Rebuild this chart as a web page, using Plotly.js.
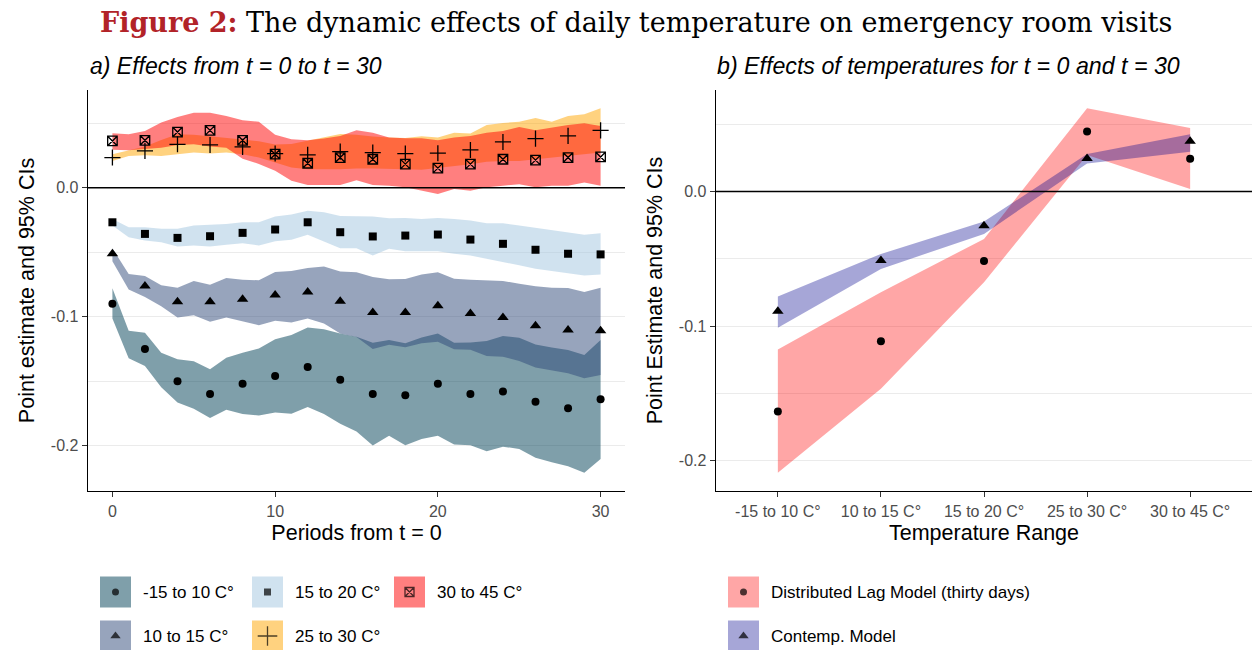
<!DOCTYPE html>
<html>
<head>
<meta charset="utf-8">
<script src="https://cdn.plot.ly/plotly-3.0.1.min.js"></script>
<style>
  html, body { margin: 0; padding: 0; background: #ffffff; }
  #chart { width: 1255px; height: 650px; }
</style>
</head>
<body>
<div id="chart"></div>
<script>
// ---------- Panel a: effects by period ----------
const periods = [0,1,2,3,4,5,6,7,8,9,10,11,12,13,14,15,16,17,18,19,20,21,22,23,24,25,26,27,28,29,30];
const pointPeriods = [0,2,4,6,8,10,12,14,16,18,20,22,24,26,28,30];
const groupLabels = ['-15 to 10 C°', '10 to 15 C°', '15 to 20 C°', '25 to 30 C°', '30 to 45 C°'];

// -15 to 10 C°
const coldEst = [-0.090,-0.125,-0.150,-0.160,-0.152,-0.146,-0.139,-0.149,-0.160,-0.161,-0.152,-0.160,-0.158,-0.166,-0.171,-0.164];
const coldHi = [-0.078,-0.111,-0.1125,-0.128,-0.133,-0.1346,-0.1408,-0.1318,-0.128,-0.1246,-0.1176,-0.1143,-0.1084,-0.1097,-0.113,-0.1156,-0.1202,-0.1181,-0.1207,-0.1161,-0.113,-0.1202,-0.120,-0.1189,-0.115,-0.1164,-0.1215,-0.124,-0.1259,-0.1297,-0.1181];
const coldLo = [-0.1014,-0.1323,-0.1382,-0.1547,-0.1665,-0.1714,-0.1786,-0.1722,-0.1755,-0.1766,-0.1743,-0.1753,-0.1701,-0.1755,-0.183,-0.189,-0.200,-0.1923,-0.1998,-0.1948,-0.1923,-0.1992,-0.1998,-0.2044,-0.2008,-0.2026,-0.2095,-0.2129,-0.216,-0.2211,-0.2103];

// 10 to 15 C°
const coolEst = [-0.0512,-0.0762,-0.0885,-0.0885,-0.0865,-0.0831,-0.0808,-0.088,-0.0968,-0.0968,-0.0916,-0.0976,-0.1006,-0.1071,-0.1104,-0.111];
const coolHi = [-0.047,-0.067,-0.0685,-0.0757,-0.0775,-0.0723,-0.0752,-0.070,-0.0713,-0.0718,-0.0654,-0.0646,-0.0623,-0.061,-0.0649,-0.0656,-0.0692,-0.071,-0.0708,-0.0672,-0.0656,-0.0705,-0.0713,-0.0718,-0.0723,-0.0744,-0.0764,-0.0775,-0.0777,-0.0808,-0.0775];
const coolLo = [-0.057,-0.079,-0.0847,-0.0919,-0.1006,-0.0988,-0.104,-0.1006,-0.1037,-0.1066,-0.1032,-0.1045,-0.1014,-0.1053,-0.113,-0.1158,-0.1251,-0.1218,-0.1238,-0.1207,-0.1195,-0.1253,-0.1256,-0.1305,-0.131,-0.1344,-0.1395,-0.1418,-0.1439,-0.1478,-0.1452];

// 15 to 20 C°
const mildEst = [-0.0268,-0.0358,-0.0389,-0.0376,-0.035,-0.0324,-0.0268,-0.0345,-0.0378,-0.0371,-0.0363,-0.0402,-0.0435,-0.0481,-0.0512,-0.0517];
const mildHi = [-0.0242,-0.0306,-0.0306,-0.0319,-0.0319,-0.0293,-0.0288,-0.0281,-0.0268,-0.0268,-0.0224,-0.0208,-0.0178,-0.019,-0.0219,-0.0224,-0.0224,-0.0237,-0.0234,-0.0242,-0.0234,-0.0242,-0.0255,-0.0276,-0.0276,-0.0293,-0.0311,-0.0327,-0.0345,-0.0365,-0.0353];
const mildLo = [-0.0293,-0.0384,-0.0409,-0.0422,-0.0456,-0.0448,-0.0456,-0.0443,-0.043,-0.0448,-0.0415,-0.0404,-0.0365,-0.0417,-0.0469,-0.0469,-0.0525,-0.0474,-0.0492,-0.0492,-0.0492,-0.0512,-0.0525,-0.0551,-0.0577,-0.0602,-0.0628,-0.0641,-0.0662,-0.068,-0.0672];

// 25 to 30 C°
const warmEst = [0.0234,0.0286,0.0337,0.0332,0.0317,0.0265,0.0255,0.028,0.0273,0.0265,0.0268,0.0293,0.0355,0.0381,0.0402,0.0445];
const warmHi = [0.026,0.029,0.032,0.037,0.0414,0.041,0.0399,0.039,0.0374,0.036,0.0335,0.034,0.0366,0.039,0.0416,0.041,0.0397,0.039,0.0386,0.040,0.039,0.0427,0.042,0.0486,0.0502,0.0512,0.0541,0.0512,0.0557,0.0569,0.0617];
const warmLo = [0.0208,0.0247,0.0252,0.0247,0.026,0.0273,0.0265,0.0273,0.026,0.0234,0.0195,0.0157,0.0144,0.0144,0.0144,0.015,0.0149,0.0144,0.0144,0.0139,0.0157,0.017,0.0183,0.0201,0.0208,0.0208,0.0221,0.0229,0.0247,0.026,0.0273];

// 30 to 45 C°
const hotEst = [0.0363,0.0368,0.0432,0.0445,0.0368,0.026,0.019,0.0234,0.0221,0.0183,0.0152,0.0183,0.0221,0.0214,0.0234,0.0239];
const hotHi = [0.0422,0.0414,0.044,0.0505,0.0548,0.0582,0.0582,0.0556,0.0523,0.0512,0.041,0.0376,0.0368,0.0381,0.0402,0.0445,0.0427,0.0389,0.0384,0.0384,0.0368,0.0389,0.0402,0.0427,0.044,0.0471,0.0445,0.0466,0.0486,0.050,0.0479];
const hotLo = [0.0294,0.0291,0.0299,0.0311,0.0332,0.0337,0.0319,0.0311,0.0225,0.0185,0.0131,0.0054,0.0021,0.0021,0.0021,0.0059,0.0021,0.0015,0.0003,-0.0023,-0.0049,-0.001,-0.0023,0.0003,0.0015,0.0028,0.0003,0.0015,0.0015,0.0041,0.0015];

const leftYTicks = [-0.2, -0.1, 0.0];
const leftYTickLabels = ['-0.2', '-0.1', '0.0'];
const leftXTicks = [0, 10, 20, 30];

// ---------- Panel b: effects by temperature range ----------
const tempRanges = ['-15 to 10 C°', '10 to 15 C°', '15 to 20 C°', '25 to 30 C°', '30 to 45 C°'];
const lagEst = [-0.1634, -0.1113, -0.0516, 0.0444, 0.0242];
const lagHi = [-0.1173, -0.0748, -0.0353, 0.0618, 0.047];
const lagLo = [-0.2089, -0.1464, -0.0674, 0.027, 0.0018];
const contEst = [-0.0889, -0.0513, -0.0254, 0.0244, 0.0373];
const contHi = [-0.078, -0.0464, -0.0224, 0.0277, 0.0425];
const contLo = [-0.1012, -0.0575, -0.0316, 0.0207, 0.0294];
const modelLabels = ['Distributed Lag Model (thirty days)', 'Contemp. Model'];

const rightYTicks = [-0.2, -0.1, 0.0];
const rightYTickLabels = ['-0.2', '-0.1', '0.0'];

// ---------- styling ----------
const SANS = 'Liberation Sans, Arial, sans-serif';
const groupFill = ['rgba(0,64,86,0.5)', 'rgba(47,73,121,0.5)', 'rgba(161,197,223,0.5)', 'rgba(255,165,0,0.5)', 'rgba(255,0,0,0.5)'];
const groupSymbol = ['circle', 'triangle-up', 'square', 'cross-thin-open', 'square-x-open'];
const groupSize = [8, 10, 8, 11.5, 9.5];
const modelFill = ['rgba(255,0,0,0.35)', 'rgba(0,0,139,0.35)'];
const modelSymbol = ['circle', 'triangle-up'];
const modelSize = [8, 10];

function markerStyle(symbol, size) {
  const open = symbol.indexOf('open') >= 0;
  return {
    symbol: symbol, size: size,
    color: '#000000',
    line: { color: '#000000', width: open ? 1.3 : 0 }
  };
}

function band(xs, hi, lo, fill, xa, ya) {
  return {
    type: 'scatter', mode: 'lines',
    x: xs.concat(xs.slice().reverse()),
    y: hi.concat(lo.slice().reverse()),
    fill: 'toself', fillcolor: fill,
    line: { width: 0, color: 'rgba(0,0,0,0)' },
    hoverinfo: 'skip', showlegend: false,
    xaxis: xa, yaxis: ya
  };
}

const groupHi = [coldHi, coolHi, mildHi, warmHi, hotHi];
const groupLo = [coldLo, coolLo, mildLo, warmLo, hotLo];
const groupEst = [coldEst, coolEst, mildEst, warmEst, hotEst];

const traces = [];
groupLabels.forEach((g, i) => traces.push(band(periods, groupHi[i], groupLo[i], groupFill[i], 'x', 'y')));
groupLabels.forEach((g, i) => traces.push({
  type: 'scatter', mode: 'markers', name: g,
  x: pointPeriods, y: groupEst[i],
  marker: markerStyle(groupSymbol[i], groupSize[i]),
  showlegend: false, xaxis: 'x', yaxis: 'y'
}));

const modelHi = [lagHi, contHi];
const modelLo = [lagLo, contLo];
const modelEst = [lagEst, contEst];
modelLabels.forEach((m, i) => traces.push(band(tempRanges, modelHi[i], modelLo[i], modelFill[i], 'x2', 'y2')));
modelLabels.forEach((m, i) => traces.push({
  type: 'scatter', mode: 'markers', name: m,
  x: tempRanges, y: modelEst[i],
  marker: markerStyle(modelSymbol[i], modelSize[i]),
  showlegend: false, xaxis: 'x2', yaxis: 'y2'
}));

// ---------- legends (drawn on a page-sized pixel overlay) ----------
const KEY = 31;
const legendRows = [592, 636];
const leftKeyLeft = [100, 252, 394];
const leftTextLeft = [141, 293, 435];
const rightKeyLeft = [728];
const rightTextLeft = [769];
const legendSymbolSize = [7, 9, 7, 14, 9];

const shapes = [];
const annotations = [];
const legendMarkers = { x: [], y: [], symbol: [], size: [] };

function addKey(left, textLeft, row, fill, symbol, size, label) {
  const cy = legendRows[row];
  shapes.push({
    type: 'rect', xref: 'x3', yref: 'y3',
    x0: left, x1: left + KEY, y0: cy - KEY / 2, y1: cy + KEY / 2,
    fillcolor: fill, line: { width: 0 }, layer: 'below'
  });
  legendMarkers.x.push(left + KEY / 2);
  legendMarkers.y.push(cy);
  legendMarkers.symbol.push(symbol);
  legendMarkers.size.push(size);
  annotations.push({
    xref: 'x3', yref: 'y3', x: textLeft, y: cy,
    xanchor: 'left', yanchor: 'middle', showarrow: false,
    text: label, font: { family: SANS, size: 17, color: '#000000' }
  });
}

groupLabels.forEach((g, i) => {
  const col = Math.floor(i / 2), row = i % 2;
  addKey(leftKeyLeft[col], leftTextLeft[col], row, groupFill[i], groupSymbol[i], legendSymbolSize[i], g);
});
modelLabels.forEach((m, i) => {
  addKey(rightKeyLeft[0], rightTextLeft[0], i, modelFill[i], modelSymbol[i], legendSymbolSize[i === 0 ? 0 : 1], m);
});

traces.push({
  type: 'scatter', mode: 'markers',
  x: legendMarkers.x, y: legendMarkers.y,
  marker: {
    symbol: legendMarkers.symbol, size: legendMarkers.size, color: '#000000',
    line: { color: '#000000', width: legendMarkers.symbol.map(s => s.indexOf('open') >= 0 ? 1.3 : 0) }
  },
  hoverinfo: 'skip', showlegend: false, xaxis: 'x3', yaxis: 'y3', cliponaxis: false
});

// zero reference lines
shapes.push({ type: 'line', xref: 'x domain', yref: 'y', x0: 0, x1: 1, y0: 0, y1: 0, line: { color: '#000000', width: 1.4 } });
shapes.push({ type: 'line', xref: 'x2 domain', yref: 'y2', x0: 0, x1: 1, y0: 0, y1: 0, line: { color: '#000000', width: 1.4 } });

// titles
annotations.push({
  xref: 'paper', yref: 'paper', x: 0.5068, y: 0.966, xanchor: 'center', yanchor: 'middle', showarrow: false,
  text: '<b><span style="color:#B22328">Figure 2:</span></b> The dynamic effects of daily temperature on emergency room visits',
  font: { family: 'DejaVu Serif, serif', size: 27, color: '#000000' }
});
annotations.push({
  xref: 'paper', yref: 'paper', x: 88 / 1255, y: (650 - 66) / 650, xanchor: 'left', yanchor: 'middle', showarrow: false,
  text: '<i>a) Effects from t = 0 to t = 30</i>', font: { family: SANS, size: 23, color: '#000000' }
});
annotations.push({
  xref: 'paper', yref: 'paper', x: 715 / 1255, y: (650 - 66) / 650, xanchor: 'left', yanchor: 'middle', showarrow: false,
  text: '<i>b) Effects of temperatures for t = 0 and t = 30</i>', font: { family: SANS, size: 23.2, color: '#000000' }
});

const tickFont = { family: SANS, size: 16, color: '#4D4D4D' };
const titleFont = { family: SANS, size: 21.5, color: '#000000' };
const yDomain = [(650 - 491) / 650, (650 - 90) / 650];

function baseAxis() {
  return {
    showline: true, linecolor: '#000000', linewidth: 1.4,
    ticks: 'outside', ticklen: 5, tickwidth: 1, tickcolor: '#333333',
    tickfont: tickFont, zeroline: false, fixedrange: true
  };
}

const layout = {
  width: 1255, height: 650,
  margin: { l: 0, r: 0, t: 0, b: 0 },
  paper_bgcolor: '#ffffff', plot_bgcolor: 'rgba(0,0,0,0)',
  showlegend: false,
  xaxis: Object.assign(baseAxis(), {
    domain: [88 / 1255, 625 / 1255], anchor: 'y',
    range: [-1.5, 31.5], tickmode: 'array', tickvals: leftXTicks,
    showgrid: false,
    title: { text: 'Periods from t = 0', font: titleFont, standoff: 6 }
  }),
  yaxis: Object.assign(baseAxis(), {
    domain: yDomain, anchor: 'x',
    range: [-0.2352, 0.0758], tickmode: 'array', tickvals: leftYTicks, ticktext: leftYTickLabels,
    showgrid: true, gridcolor: '#EBEBEB', gridwidth: 1,
    minor: { tickmode: 'array', tickvals: [-0.15, -0.05, 0.05], showgrid: true, gridcolor: '#EBEBEB', gridwidth: 1, ticks: '' },
    title: { text: 'Point estimate and 95% CIs', font: titleFont, standoff: 10 }
  }),
  xaxis2: Object.assign(baseAxis(), {
    domain: [716 / 1255, 1252 / 1255], anchor: 'y2',
    type: 'category', categoryorder: 'array', categoryarray: tempRanges,
    range: [-0.6, 4.6], showgrid: false,
    title: { text: 'Temperature Range', font: titleFont, standoff: 6 }
  }),
  yaxis2: Object.assign(baseAxis(), {
    domain: yDomain, anchor: 'x2',
    range: [-0.2224, 0.0753], tickmode: 'array', tickvals: rightYTicks, ticktext: rightYTickLabels,
    showgrid: true, gridcolor: '#EBEBEB', gridwidth: 1,
    minor: { tickmode: 'array', tickvals: [-0.15, -0.05, 0.05], showgrid: true, gridcolor: '#EBEBEB', gridwidth: 1, ticks: '' },
    title: { text: 'Point Estimate and 95% CIs', font: titleFont, standoff: 10 }
  }),
  xaxis3: { domain: [0, 1], range: [0, 1255], anchor: 'y3', visible: false, fixedrange: true },
  yaxis3: { domain: [0, 1], range: [650, 0], anchor: 'x3', visible: false, fixedrange: true },
  shapes: shapes,
  annotations: annotations
};

Plotly.newPlot('chart', traces, layout, { staticPlot: true, displayModeBar: false });
</script>
</body>
</html>
